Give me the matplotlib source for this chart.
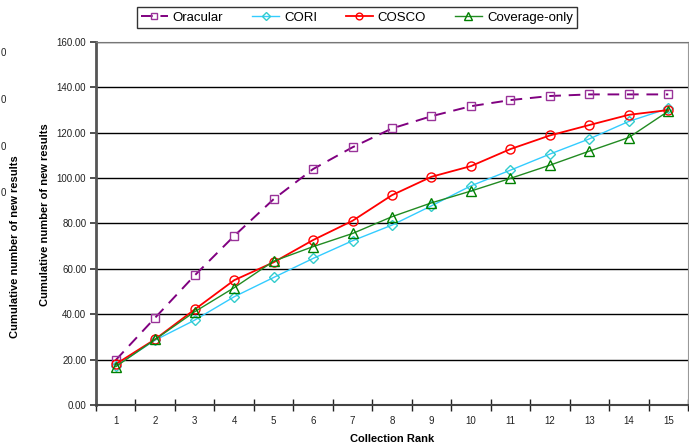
# ✅ Phase 1: IMPORT LIBRARIES
import numpy as np
import matplotlib
matplotlib.use("Agg")
import matplotlib.pyplot as plt
from matplotlib.ticker import FormatStrFormatter

plt.rcParams['font.family'] = ['Liberation Sans', 'DejaVu Sans']

# ✅ Phase 2: DATA
ranks = list(range(1, 16))
oracular = [19.8, 38.5, 57.1, 74.5, 90.7, 104.0, 113.6, 121.9, 127.3, 131.7, 134.4, 136.2, 136.9, 136.9, 136.9]
cori = [17.2, 28.6, 37.4, 47.7, 56.2, 64.6, 72.4, 79.3, 87.8, 96.6, 103.5, 110.6, 117.3, 125.0, 130.7]
cosco = [18.0, 29.0, 42.1, 55.0, 62.9, 72.7, 81.2, 92.5, 100.6, 105.3, 112.8, 118.8, 123.4, 127.9, 130.0]
coverage = [16.9, 28.9, 41.1, 51.7, 63.4, 69.8, 75.6, 83.0, 89.1, 94.3, 99.9, 105.7, 111.9, 117.9, 129.5]
y_ticks = [0, 20, 40, 60, 80, 100, 120, 140, 160]
stray_ticks_y = [53, 100, 147, 193]  # labels of the chart underneath, pixel rows

# ✅ Phase 3: FIGURE
fig = plt.figure(figsize=(6.89, 4.45), dpi=100)
ax = fig.add_axes([96 / 689, 1 - 405 / 445, 592 / 689, 363 / 445])

ax.plot(ranks, oracular, color='#800080', ls=(0, (6, 4)), lw=1.4, marker='s', ms=6,
        mfc='none', mec='#993399', mew=1.0, label='Oracular')
ax.plot(ranks, cori, color='#33CCFF', lw=1.0, marker='D', ms=5,
        mfc='none', mec='#33CCCC', mew=1.0, label='CORI')
ax.plot(ranks, cosco, color='#FF0000', lw=1.3, marker='o', ms=6.5,
        mfc='none', mec='#FF0000', mew=1.0, label='COSCO')
ax.plot(ranks, coverage, color='#228B22', lw=1.0, marker='^', ms=7,
        mfc='none', mec='#008000', mew=1.0, label='Coverage-only')

# ✅ Phase 4: AXES STYLE
ax.set_xlim(0.5, 15.5)
ax.set_ylim(0, 160)
ax.set_yticks(y_ticks)
ax.yaxis.set_major_formatter(FormatStrFormatter('%.2f'))
ax.yaxis.grid(True, color='#000000', lw=1.0)
ax.set_axisbelow(True)
ax.tick_params(axis='y', direction='out', length=4, width=1.2, color='#333333',
               labelsize=7, labelcolor='#222222', pad=3)

ax.set_xticks(ranks)
ax.set_xticklabels([str(r) for r in ranks])
ax.set_xticks(np.arange(0.5, 16, 1), minor=True)
ax.tick_params(axis='x', which='major', length=0, labelsize=7, labelcolor='#222222', pad=8)
ax.tick_params(axis='x', which='minor', direction='inout', length=8, width=1.0, color='#222222')

ax.spines['left'].set_color('#555555')
ax.spines['left'].set_linewidth(2.0)
ax.spines['bottom'].set_color('#444444')
ax.spines['bottom'].set_linewidth(1.5)
ax.spines['right'].set_color('#999999')
ax.spines['top'].set_color('#777777')

ax.set_xlabel('Collection Rank', fontsize=8, fontweight='bold', labelpad=6)
fig.text(45 / 689, 1 - 215 / 445, 'Cumulative number of new results', rotation=90,
         fontsize=8, fontweight='bold', ha='center', va='center')

# leftovers of another chart peeking in at the left edge
fig.text(15 / 689, 1 - 247 / 445, 'Cumulative number of new results', rotation=90,
         fontsize=8, fontweight='bold', ha='center', va='center')
for yy in stray_ticks_y:
    fig.text(3.5 / 689, 1 - yy / 445, '0', fontsize=7, color='#222222', ha='center', va='center')

# ✅ Phase 5: LEGEND
leg = fig.legend(loc='center', bbox_to_anchor=(357 / 689, 1 - 17.5 / 445), ncol=4,
                 fontsize=9.5, frameon=True, fancybox=False, edgecolor='#000000',
                 handlelength=2.0, columnspacing=2.2, handletextpad=0.4,
                 borderpad=0.3, markerscale=0.75)
leg.get_frame().set_linewidth(1.0)

fig.savefig('out.png', dpi=100)
